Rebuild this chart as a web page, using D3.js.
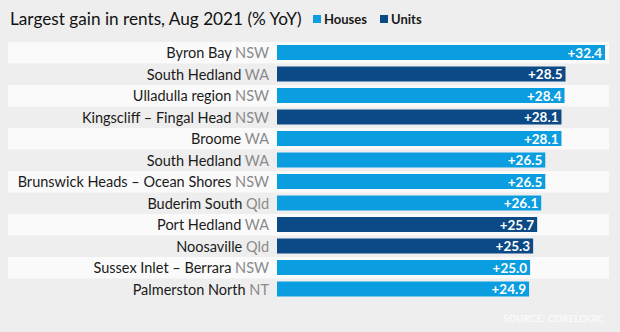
<!DOCTYPE html>
<html>
<head>
<meta charset="utf-8">
<script src="https://cdn.jsdelivr.net/npm/d3@7/dist/d3.min.js"></script>
<style>
  html, body { margin: 0; padding: 0; background: #eeeeee; }
  svg { display: block; }
  text { font-family: Lato, "Open Sans", sans-serif; }
</style>
</head>
<body>
<svg id="chart" width="620" height="332"></svg>
<script>
const places = ["Byron Bay", "South Hedland", "Ulladulla region", "Kingscliff – Fingal Head", "Broome", "South Hedland", "Brunswick Heads – Ocean Shores", "Buderim South", "Port Hedland", "Noosaville", "Sussex Inlet – Berrara", "Palmerston North"];
const states = ["NSW", "WA", "NSW", "NSW", "WA", "WA", "NSW", "Qld", "WA", "Qld", "NSW", "NT"];
const values = [32.4, 28.5, 28.4, 28.1, 28.1, 26.5, 26.5, 26.1, 25.7, 25.3, 25.0, 24.9];
const types = ["Houses", "Units", "Houses", "Units", "Houses", "Houses", "Houses", "Houses", "Units", "Units", "Houses", "Houses"];
const seriesNames = ["Houses", "Units"];
const seriesColors = ["#0a9de0", "#0b4a86"];

const data = places.map((p, i) => ({ i, place: p, state: states[i], value: values[i], type: types[i] }));

const svg = d3.select("#chart");
const W = 620, H = 332;
svg.append("rect").attr("width", W).attr("height", H).attr("fill", "#eeeeee");

const color = d3.scaleOrdinal().domain(seriesNames).range(seriesColors);
const y = d3.scaleBand().domain(d3.range(data.length)).range([42, 42 + 21.5 * data.length]).padding(0);
const x = d3.scaleLinear().domain([0, d3.max(values)]).range([277, 605]);

// zebra bands
svg.append("g").selectAll("rect").data(data.filter(d => d.i % 2 === 0)).join("rect")
  .attr("x", 8).attr("width", 601)
  .attr("y", d => y(d.i)).attr("height", y.bandwidth())
  .attr("fill", "#fafafa");

// bars
svg.append("g").selectAll("rect").data(data).join("rect")
  .attr("x", x(0)).attr("width", d => x(d.value) - x(0))
  .attr("y", d => y(d.i) + 3).attr("height", y.bandwidth() - 6.5)
  .attr("fill", d => color(d.type));

// value labels
svg.append("g").selectAll("text").data(data).join("text")
  .attr("x", d => x(d.value) - 3)
  .attr("y", d => y(d.i) + y.bandwidth() / 2)
  .attr("dy", "0.37em")
  .attr("text-anchor", "end")
  .attr("fill", "#ffffff")
  .attr("font-weight", "bold")
  .attr("font-size", 13.5)
  .text(d => "+" + d.value.toFixed(1));

// category labels
const lab = svg.append("g").selectAll("text").data(data).join("text")
  .attr("x", 269)
  .attr("y", d => y(d.i) + y.bandwidth() / 2)
  .attr("dy", "0.37em")
  .attr("text-anchor", "end")
  .attr("font-size", 14.5);
lab.append("tspan").attr("fill", "#1a1a1a").text(d => d.place + " ");
lab.append("tspan").attr("fill", "#8a8a8a").text(d => d.state);

// title
svg.append("text").attr("x", 10).attr("y", 25)
  .attr("font-size", 17.2).attr("fill", "#111")
  .text("Largest gain in rents, Aug 2021 (% YoY)");

// legend
const leg = svg.append("g");
const legX = [313, 380];
seriesNames.forEach((s, k) => {
  leg.append("rect").attr("x", legX[k]).attr("y", 15).attr("width", 8).attr("height", 8).attr("fill", seriesColors[k]);
  leg.append("text").attr("x", legX[k] + 11).attr("y", 23.5)
    .attr("font-size", 13).attr("font-weight", "bold").attr("fill", "#1a1a1a").text(s);
});

// source
svg.append("text").attr("x", 604).attr("y", 322).attr("text-anchor", "end")
  .attr("font-size", 9.5).attr("fill", "#ffffff").attr("letter-spacing", 0.3)
  .text("SOURCE: CORELOGIC");
</script>
</body>
</html>
